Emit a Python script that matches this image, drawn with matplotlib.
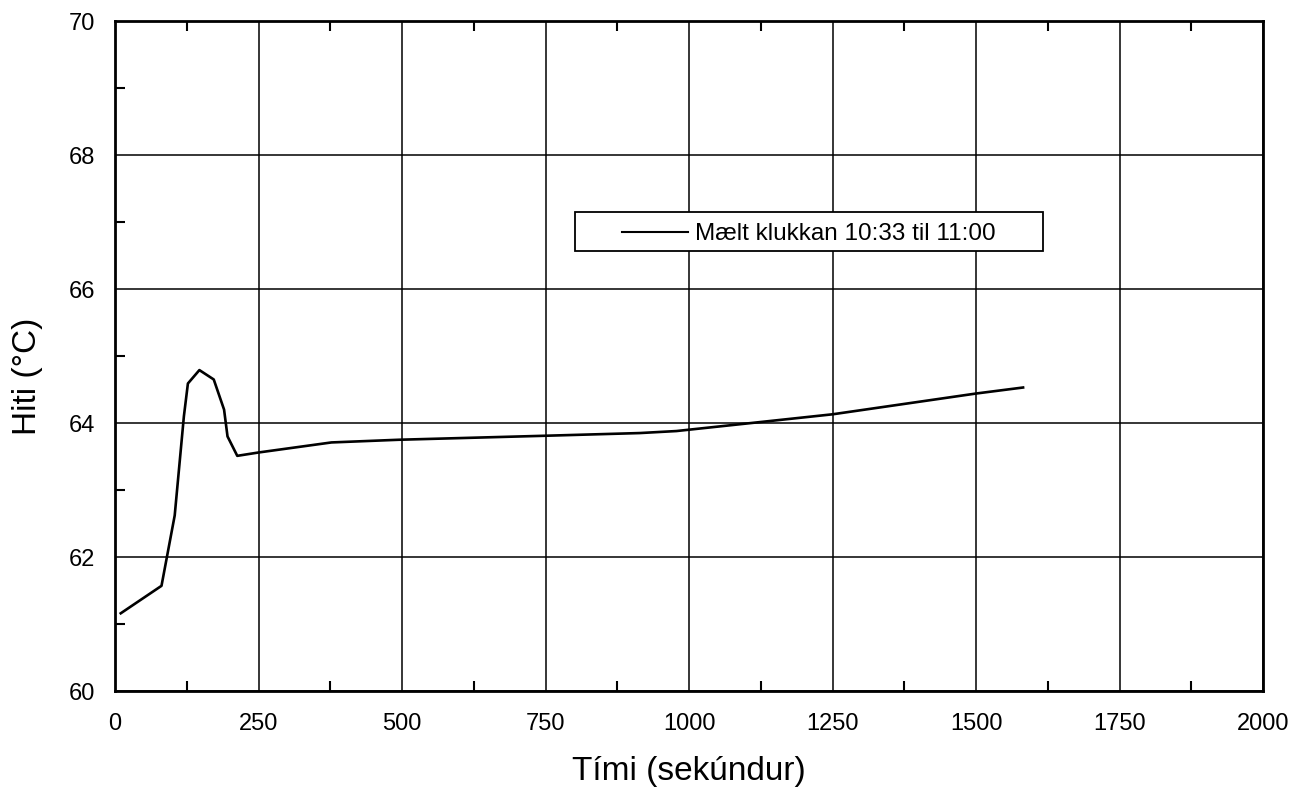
import matplotlib
matplotlib.use("Agg")
import matplotlib.pyplot as plt
from matplotlib.ticker import MultipleLocator
from matplotlib.patches import Rectangle
from matplotlib.lines import Line2D

plt.rcParams['font.family'] = ['Liberation Sans', 'DejaVu Sans']

# temperature log
time_s = [10, 81, 104, 120, 127, 147, 172, 190, 196, 213, 250, 377, 494,
          750, 914, 978, 1250, 1500, 1582]
temp_c = [61.16, 61.57, 62.62, 64.10, 64.59, 64.79, 64.65, 64.20, 63.80,
          63.51, 63.56, 63.71, 63.75, 63.81, 63.85, 63.88, 64.13, 64.44, 64.53]
series_label = "Mælt klukkan 10:33 til 11:00"

fig = plt.figure(figsize=(13.01, 7.90), dpi=100)
ax = fig.add_axes([0.0884, 0.1253, 0.8824, 0.8481])

ax.plot(time_s, temp_c, color='black', lw=1.9)

ax.set_xlim(0, 2000)
ax.set_ylim(60, 70)
ax.xaxis.set_major_locator(MultipleLocator(250))
ax.xaxis.set_minor_locator(MultipleLocator(125))
ax.yaxis.set_major_locator(MultipleLocator(2))
ax.yaxis.set_minor_locator(MultipleLocator(1))
ax.grid(True, which='major', color='black', lw=1.1)
ax.tick_params(which='both', direction='in', top=True, right=False,
               labelsize=17, width=1.5)
ax.tick_params(axis='x', pad=16)
ax.tick_params(axis='y', pad=14)
ax.tick_params(which='major', length=0)
ax.tick_params(which='minor', length=7.5)
for sp in ax.spines.values():
    sp.set_linewidth(2)

fig.text(0.5296, 0.0127, "Tími (sekúndur)", fontsize=24, ha='center', va='baseline')
fig.text(0.021, 0.524, "Hiti (°C)", fontsize=24, rotation=90, ha='center', va='center')

# legend box, drawn by hand to get the wide padding of the original
fig.patches.append(Rectangle((0.4420, 0.6823), 0.3597, 0.0494, transform=fig.transFigure,
                             facecolor='white', edgecolor='black', lw=1.3, zorder=5))
fig.lines.append(Line2D([0.4781, 0.5288], [0.7063, 0.7063], transform=fig.transFigure,
                        color='black', lw=1.5, zorder=6))
fig.text(0.5342, 0.6968, series_label, fontsize=17.5, ha='left', va='baseline', zorder=6)

fig.savefig("out.png", dpi=100)
